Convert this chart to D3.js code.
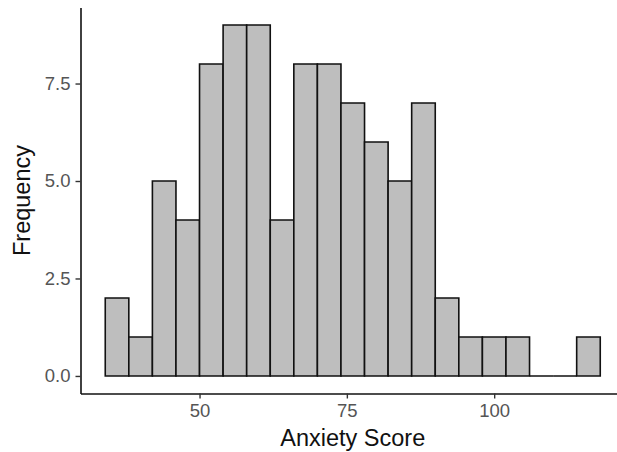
<!DOCTYPE html>
<html>
<head>
<meta charset="utf-8">
<script src="https://cdn.jsdelivr.net/npm/d3@7"></script>
<style>
  html, body { margin: 0; padding: 0; background: #fff; }
  svg { display: block; }
  text { font-family: "Liberation Sans", Arial, Helvetica, sans-serif; }
</style>
</head>
<body>
<svg id="chart" width="617" height="452"></svg>
<script>
// Histogram bins (lower edges), bin width and counts
const binStarts = [34, 38, 42, 46, 50, 54, 58, 62, 66, 70, 74, 78, 82, 86, 90, 94, 98, 102, 106, 110, 114];
const binWidth = 4;
const counts = [2, 1, 5, 4, 8, 9, 9, 4, 8, 8, 7, 6, 5, 7, 2, 1, 1, 1, 0, 0, 1];
const xTicks = [50, 75, 100];
const yTicks = [0, 2.5, 5, 7.5];
const xTitle = "Anxiety Score";
const yTitle = "Frequency";

const svg = d3.select("#chart");

const x = d3.scaleLinear().domain([29.8, 122.2]).range([80.5, 625]);
const y = d3.scaleLinear().domain([-0.45, 9.45]).range([393.5, 7.5]);

const bins = binStarts.map((s, i) => ({ x0: s, x1: s + binWidth, n: counts[i] }));

svg.append("g").selectAll("path").data(bins).join("path")
  .attr("d", d => {
    const a = x(d.x0), b = x(d.x1), t = y(d.n), z = y(0);
    return `M${a},${z}V${t}H${b}V${z}Z`;
  })
  .attr("fill", "#bebebe")
  .attr("stroke", "#111")
  .attr("stroke-width", 1.6);

// Axes
const xAxis = svg.append("g").attr("transform", `translate(0,${y(-0.45)})`)
  .call(d3.axisBottom(x).tickValues(xTicks).tickSize(5).tickSizeOuter(0).tickPadding(5).tickFormat(d3.format("d")));
const yAxis = svg.append("g").attr("transform", `translate(${x(29.8)},0)`)
  .call(d3.axisLeft(y).tickValues(yTicks).tickSize(5).tickSizeOuter(0).tickPadding(5).tickFormat(d3.format(".1f")));

[xAxis, yAxis].forEach(g => {
  g.select(".domain").attr("stroke", "#111").attr("stroke-width", 1.6);
  g.selectAll(".tick line").attr("stroke", "#333").attr("stroke-width", 1.4);
  g.selectAll(".tick text").attr("fill", "#555").style("font-size", "18.5px");
});

svg.append("text")
  .attr("x", (x(29.8) + 625) / 2)
  .attr("y", 446)
  .attr("text-anchor", "middle")
  .attr("fill", "#111")
  .style("font-size", "23.5px")
  .text(xTitle);

svg.append("text")
  .attr("transform", `translate(30,${(y(-0.45) + y(9.45)) / 2}) rotate(-90)`)
  .attr("text-anchor", "middle")
  .attr("fill", "#111")
  .style("font-size", "23.5px")
  .text(yTitle);
</script>
</body>
</html>
